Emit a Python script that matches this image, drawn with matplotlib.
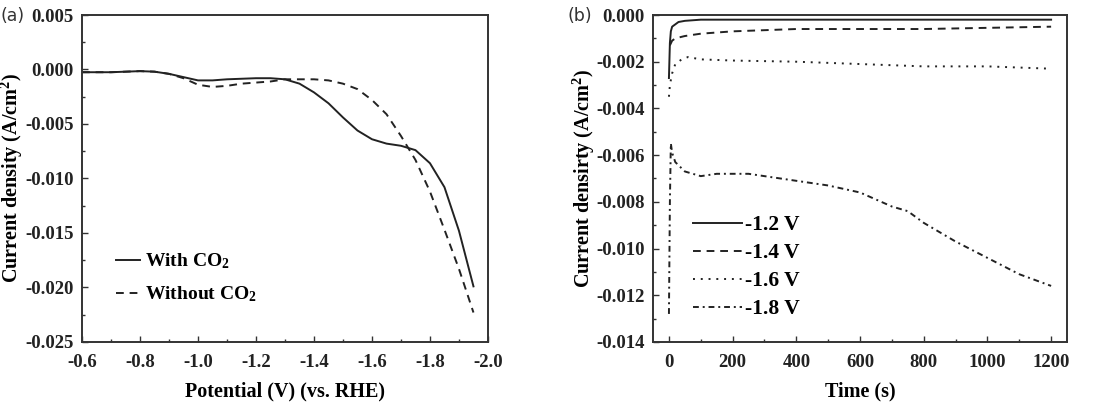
import matplotlib
matplotlib.use("Agg")
import matplotlib.pyplot as plt
from matplotlib.ticker import MultipleLocator, FuncFormatter

# Panel (a): linear sweep voltammetry
pot = [-0.6, -0.7, -0.8, -0.85, -0.9, -0.95, -1.0, -1.05, -1.1, -1.15, -1.2, -1.25, -1.3,
       -1.35, -1.4, -1.45, -1.5, -1.55, -1.6, -1.65, -1.7, -1.75, -1.8, -1.85, -1.9, -1.95]
with_co2 = [-0.00025, -0.00025, -0.00015, -0.0002, -0.0004, -0.0007, -0.001, -0.001,
            -0.0009, -0.00085, -0.0008, -0.0008, -0.0009, -0.0013, -0.0021, -0.0031,
            -0.0044, -0.0056, -0.0064, -0.0068, -0.0070, -0.0074, -0.0086, -0.0108,
            -0.0148, -0.0199]
without_co2 = [-0.00025, -0.00025, -0.00015, -0.0002, -0.0004, -0.0008, -0.0014, -0.0016,
               -0.0015, -0.0013, -0.0012, -0.0011, -0.0009, -0.0009, -0.0009, -0.001,
               -0.0013, -0.0018, -0.0028, -0.0041, -0.0061, -0.0083, -0.0112, -0.0147,
               -0.0183, -0.0223]

# Panel (b): chronoamperometry
t12 = [0, 3, 6, 10, 20, 30, 50, 100, 200, 400, 600, 800, 1000, 1200]
j12 = [-0.0027, -0.0012, -0.0007, -0.0005, -0.0004, -0.0003, -0.00025, -0.0002, -0.0002,
       -0.0002, -0.0002, -0.0002, -0.0002, -0.0002]
t14 = [3, 10, 20, 50, 100, 200, 400, 600, 800, 1000, 1200]
j14 = [-0.0013, -0.0011, -0.001, -0.0009, -0.0008, -0.0007, -0.0006, -0.0006, -0.0006,
       -0.00055, -0.0005]
t16 = [0, 3, 10, 20, 40, 60, 100, 200, 400, 600, 800, 1000, 1200]
j16 = [-0.0035, -0.003, -0.0025, -0.0021, -0.0019, -0.0018, -0.0019, -0.00195, -0.002,
       -0.0021, -0.0022, -0.0022, -0.0023]
t18 = [0, 3, 6, 10, 20, 50, 100, 150, 250, 300, 400, 500, 600, 700, 750, 800, 900, 1000,
       1100, 1200]
j18 = [-0.0128, -0.008, -0.0055, -0.0059, -0.0063, -0.0067, -0.0069, -0.0068, -0.0068,
       -0.0069, -0.0071, -0.0073, -0.0076, -0.0082, -0.0084, -0.0089, -0.0097, -0.0104,
       -0.0111, -0.0116]

serif = "Liberation Serif"
plt.rcParams.update({
    "font.family": serif,
    "font.weight": "bold",
    "axes.labelweight": "bold",
    "axes.unicode_minus": False,
    "mathtext.fontset": "custom",
    "mathtext.rm": "Liberation Serif:bold",
    "mathtext.it": "Liberation Serif:bold",
    "mathtext.bf": "Liberation Serif:bold",
    "mathtext.default": "regular",
})

col = "#222222"
lw = 1.4

fig = plt.figure(figsize=(11.1, 4.11), dpi=100)
axa = fig.add_axes([0.0739, 0.168, 0.3657, 0.7955])
axb = fig.add_axes([0.5883, 0.168, 0.373, 0.7955])


def fmt(decimals):
    def f(v, pos):
        s = f"{v:.{decimals}f}"
        if float(s) == 0:
            s = f"{0:.{decimals}f}"
        return s
    return FuncFormatter(f)


def style(ax):
    ax.tick_params(which="both", direction="in", top=False, right=False, colors="#333333",
                   labelcolor="#222222", labelsize=13.5)
    ax.tick_params(axis="x", which="major", length=4, width=1.0, pad=9)
    ax.tick_params(axis="y", which="major", length=4, width=1.0, pad=6)
    ax.tick_params(which="minor", length=2.5, width=1.0)
    for sp in ax.spines.values():
        sp.set_linewidth(1.4)
        sp.set_color("#333333")


# Panel (a)
axa.plot(pot, with_co2, "-", color=col, lw=lw, label="With CO$_2$")
axa.plot(pot, without_co2, "--", color=col, lw=lw, label="Without CO$_2$", dashes=(4, 3))
axa.set_xlim(-0.6, -2.0)
axa.set_ylim(-0.025, 0.005)
axa.xaxis.set_major_locator(MultipleLocator(0.2))
axa.xaxis.set_minor_locator(MultipleLocator(0.1))
axa.yaxis.set_major_locator(MultipleLocator(0.005))
axa.yaxis.set_minor_locator(MultipleLocator(0.0025))
axa.xaxis.set_major_formatter(fmt(1))
axa.yaxis.set_major_formatter(fmt(3))
style(axa)
axa.set_xlabel("Potential (V) (vs. RHE)", fontsize=14.5, fontweight="bold")
axa.set_ylabel("Current density (A/cm$^2$)", fontsize=14.5, fontweight="bold")
axa.xaxis.set_label_coords(0.5, -0.122)
axa.yaxis.set_label_coords(-0.140, 0.5)
axa.legend(loc="upper left", bbox_to_anchor=(0.084, 0.277), frameon=False, borderpad=0,
           borderaxespad=0, handlelength=1.25, handletextpad=0.25, labelspacing=0.7,
           prop={"family": serif, "weight": "bold", "size": 14})
fig.text(0.0, 0.96, "(a)", fontsize=12.5, family="DejaVu Sans", fontweight="normal",
         va="center", color="#333333")

# Panel (b)
axb.plot(t12, j12, "-", color=col, lw=lw, label="-1.2 V")
axb.plot(t14, j14, "--", color=col, lw=lw, label="-1.4 V", dashes=(4, 3))
axb.plot(t16, j16, ":", color=col, lw=lw, label="-1.6 V", dashes=(1, 3))
axb.plot(t18, j18, "-.", color=col, lw=lw, label="-1.8 V", dashes=(3, 2, 1, 2))
axb.set_xlim(-50, 1250)
axb.set_ylim(-0.014, 0.0)
axb.xaxis.set_major_locator(MultipleLocator(200))
axb.xaxis.set_minor_locator(MultipleLocator(100))
axb.yaxis.set_major_locator(MultipleLocator(0.002))
axb.yaxis.set_minor_locator(MultipleLocator(0.001))
axb.xaxis.set_major_formatter(fmt(0))
axb.yaxis.set_major_formatter(fmt(3))
style(axb)
axb.set_xlabel("Time (s)", fontsize=14.5, fontweight="bold")
axb.set_ylabel("Current densirty (A/cm$^2$)", fontsize=14.5, fontweight="bold")
axb.xaxis.set_label_coords(0.5, -0.122)
axb.yaxis.set_label_coords(-0.135, 0.5)
axb.legend(loc="upper left", bbox_to_anchor=(0.097, 0.388), frameon=False, borderpad=0,
           borderaxespad=0, handlelength=2.25, handletextpad=0.15, labelspacing=0.37,
           prop={"family": serif, "weight": "bold", "size": 15.5})
fig.text(0.511, 0.96, "(b)", fontsize=12.5, family="DejaVu Sans", fontweight="normal",
         va="center", color="#333333")

fig.savefig("out.png", dpi=100)
